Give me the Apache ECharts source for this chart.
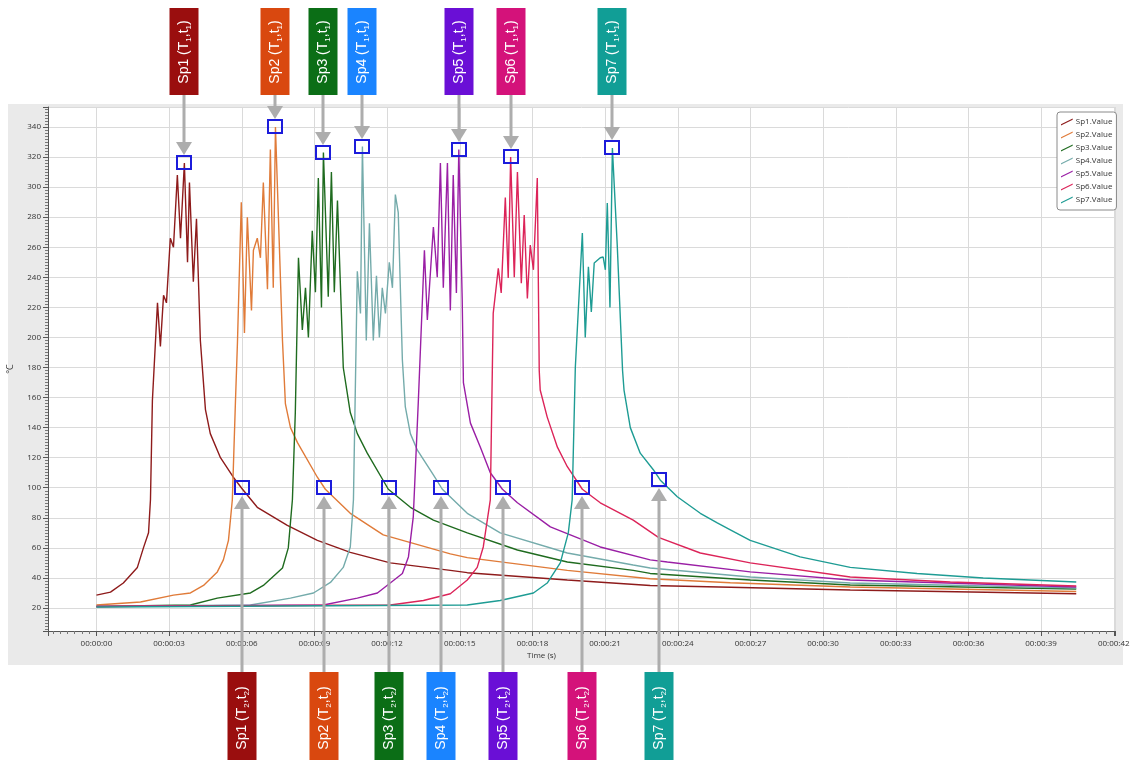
<!DOCTYPE html>
<html><head><meta charset="utf-8">
<script src="https://cdn.jsdelivr.net/npm/echarts@6/dist/echarts.min.js"></script>
<style>html,body{margin:0;padding:0;background:#fff}#c{width:1131px;height:760px}</style>
</head><body><div id="c"></div>
<script>
// ---- data ----
const seriesNames = ['Sp1.Value','Sp2.Value','Sp3.Value','Sp4.Value','Sp5.Value','Sp6.Value','Sp7.Value'];
const spNames = ['Sp1','Sp2','Sp3','Sp4','Sp5','Sp6','Sp7'];

const sp1Time = [0, 0.58, 1.11, 1.69, 1.94, 2.15, 2.23, 2.31, 2.52, 2.64, 2.77, 2.89, 3.05, 3.18, 3.34, 3.47, 3.63, 3.76, 3.84, 4.00, 4.13, 4.29, 4.50, 4.70, 5.12, 5.65, 6.03, 6.64, 7.88, 9.12, 10.48, 12.13, 14.61, 15.31, 19.44, 22.86, 26.17, 31.12, 40.45];
const sp1Temp = [28.6, 30.6, 36.6, 47, 60, 70, 92, 158, 223, 194, 228, 223, 266, 260, 308, 266, 316, 250, 303, 237, 279, 198, 152, 136, 120, 107, 99, 87, 75, 65, 57, 50, 45, 43.5, 38.6, 35, 33.8, 32, 29.5];

const sp2Time = [0, 1.82, 3.18, 3.88, 4.42, 4.99, 5.24, 5.45, 5.61, 5.74, 5.82, 5.98, 6.11, 6.23, 6.40, 6.48, 6.64, 6.77, 6.89, 7.06, 7.18, 7.30, 7.39, 7.68, 7.80, 8.01, 8.30, 9.12, 9.45, 10.48, 11.84, 14.61, 15.31, 19.44, 22.86, 26.17, 31.12, 40.45];
const sp2Temp = [22, 24, 28.6, 30, 35, 44, 52, 65, 92, 158, 196, 290, 203, 280, 218, 258, 266, 253, 303, 232, 325, 233, 340, 198, 156, 140, 130, 107, 99, 83, 68.6, 56, 53.5, 45, 39.5, 36.8, 34, 31];

const sp3Time = [0, 3.88, 4.99, 6.36, 6.89, 7.68, 7.92, 8.09, 8.21, 8.34, 8.50, 8.63, 8.75, 8.91, 9.04, 9.16, 9.29, 9.37, 9.57, 9.70, 9.82, 9.95, 10.19, 10.48, 10.77, 11.18, 12.05, 12.96, 13.91, 15.31, 17.38, 19.44, 22.16, 22.86, 26.99, 31.12, 40.45];
const sp3Temp = [21, 22, 26.6, 30, 35, 46.6, 60, 92, 150, 253, 205, 233, 200, 271, 230, 306, 220, 323, 227, 310, 230, 291, 180, 150, 136, 123, 99, 87, 78.5, 70, 58.6, 50.6, 45, 43, 38.6, 35.3, 32.6];

const sp4Time = [0, 6.36, 8.01, 8.96, 9.66, 10.19, 10.48, 10.61, 10.77, 10.90, 10.98, 11.14, 11.27, 11.43, 11.56, 11.68, 11.80, 11.93, 12.09, 12.22, 12.34, 12.46, 12.63, 12.75, 12.96, 13.25, 13.91, 14.28, 15.31, 16.67, 19.44, 22.16, 22.86, 26.99, 31.12, 40.45];
const sp4Temp = [21, 22, 26.6, 30, 37, 47, 60.6, 92, 244, 216, 327, 198, 276, 198, 241, 200, 233, 216, 250, 233, 295, 283, 185, 154, 136, 125, 108.5, 99, 83, 70, 56.6, 48.6, 46.6, 40.6, 36.6, 33.3];

const sp5Time = [0, 9.37, 10.77, 11.60, 12.13, 12.63, 12.88, 13.08, 13.29, 13.54, 13.66, 13.91, 14.07, 14.20, 14.32, 14.49, 14.61, 14.73, 14.86, 14.96, 15.10, 15.15, 15.44, 15.85, 16.26, 16.76, 17.38, 18.74, 20.80, 22.86, 23.57, 26.99, 31.12, 40.45];
const sp5Temp = [21, 22, 26.6, 30, 36.6, 43, 54, 80.6, 158, 258, 211.6, 273.5, 240, 316, 233, 316, 218, 308, 229.6, 325, 225, 170, 143, 127, 110, 99, 90, 74, 60.6, 52, 50.6, 44, 38.6, 34];

const sp6Time = [0, 12.13, 13.50, 14.61, 15.31, 15.72, 15.97, 16.26, 16.38, 16.59, 16.71, 16.88, 17.00, 17.10, 17.25, 17.38, 17.54, 17.66, 17.79, 17.91, 18.04, 18.20, 18.28, 18.32, 18.61, 19.03, 19.44, 20.06, 20.80, 22.16, 23.20, 24.93, 26.99, 31.12, 35.25, 40.45];
const sp6Temp = [21, 22, 25, 29.5, 38.6, 47, 60.6, 92, 216, 246, 229.6, 293, 239.6, 320, 240, 310, 236, 281.5, 226, 261.5, 245, 306, 178, 165, 147, 127, 114, 99, 90, 78.5, 67, 56.6, 50, 40.6, 37.3, 34.6];

const sp7Time = [0, 15.31, 16.67, 18.04, 18.61, 19.15, 19.48, 19.64, 19.77, 20.06, 20.18, 20.31, 20.43, 20.55, 20.80, 20.92, 21.01, 21.09, 21.20, 21.30, 21.50, 21.72, 21.78, 22.04, 22.45, 22.99, 23.28, 23.98, 24.93, 25.63, 26.17, 26.99, 29.05, 31.12, 33.88, 36.61, 40.45];
const sp7Temp = [20.7, 22, 25, 30, 36.6, 50, 70, 92, 180, 269.5, 200, 247, 217, 249.5, 253, 253.5, 245, 289.5, 220, 326, 261.5, 178, 165, 140, 123, 112, 105, 94, 83, 76.6, 72, 65, 54, 47, 43, 40, 37.3];

// annotation points (T1,t1) peak and (T2,t2) cooling
const peakTime = [3.63, 7.39, 9.37, 10.98, 14.96, 17.10, 21.30];
const peakTemp = [316, 340, 323, 327, 325, 320, 326];
const coolTime = [6.00, 9.40, 12.09, 14.24, 16.80, 20.06, 23.24];
const coolTemp = [100, 100, 100, 100, 100, 100, 105];

const xMin = -2, xMax = 42.05, yMin = 4.7, yMax = 353.3;

// ---- styles ----
const lineColors = ['#8E1B1B','#E07B39','#1F6B1F','#74ABAB','#9A1FA5','#DC2459','#1E9C94'];
const boxColors = ['#9A0E0E','#D9480F','#0B6E16','#1A84FF','#6A0FD6','#D4127A','#119E96'];
const FONT = 'Open Sans';

const times = [sp1Time, sp2Time, sp3Time, sp4Time, sp5Time, sp6Time, sp7Time];
const temps = [sp1Temp, sp2Temp, sp3Temp, sp4Temp, sp5Temp, sp6Temp, sp7Temp];

const rich = {
  a: {fontSize: 14, fontFamily: 'Liberation Sans', fill: '#fff', lineHeight: 18},
  s: {fontSize: 8, fontFamily: 'Liberation Sans', fill: '#fff', lineHeight: 18, verticalAlign: 'bottom'}
};

function makeAnno(isTop) {
  return function (params, api) {
    const p = api.coord([api.value(0), api.value(1)]);
    const i = api.value(2);
    const x = Math.round(p[0]), y = Math.round(p[1]);
    const sub = isTop ? '1' : '2';
    const text = '{a|' + spNames[i] + ' (T}{s|' + sub + '}{a|,t}{s|' + sub + '}{a|)}';
    const gray = '#ADADAD';
    let children;
    if (isTop) {
      children = [
        {type: 'line', shape: {x1: x, y1: 95, x2: x, y2: y - 19}, style: {stroke: gray, lineWidth: 3}},
        {type: 'polygon', shape: {points: [[x - 8, y - 21], [x + 8, y - 21], [x, y - 8]]}, style: {fill: gray}},
        {type: 'rect', shape: {x: x - 7, y: y - 7, width: 14, height: 13}, style: {fill: 'rgba(0,0,0,0)', stroke: '#1C1CDB', lineWidth: 2}},
        {type: 'rect', shape: {x: x - 14.5, y: 8, width: 29, height: 87}, style: {fill: boxColors[i]}},
        {type: 'text', x: x, y: 52, rotation: Math.PI / 2, style: {text: text, rich: rich, fill: '#fff', align: 'center', verticalAlign: 'middle'}}
      ];
    } else {
      children = [
        {type: 'line', shape: {x1: x, y1: 672, x2: x, y2: y + 19}, style: {stroke: gray, lineWidth: 3}},
        {type: 'polygon', shape: {points: [[x - 8, y + 21], [x + 8, y + 21], [x, y + 8]]}, style: {fill: gray}},
        {type: 'rect', shape: {x: x - 7, y: y - 7, width: 14, height: 13}, style: {fill: 'rgba(0,0,0,0)', stroke: '#1C1CDB', lineWidth: 2}},
        {type: 'rect', shape: {x: x - 14.5, y: 672, width: 29, height: 92}, style: {fill: boxColors[i]}},
        {type: 'text', x: x, y: 718, rotation: Math.PI / 2, style: {text: text, rich: rich, fill: '#fff', align: 'center', verticalAlign: 'middle'}}
      ];
    }
    return {type: 'group', children: children};
  };
}

const lineSeries = seriesNames.map((name, i) => ({
  name: name,
  type: 'line',
  data: times[i].map((t, k) => [t, temps[i][k]]),
  showSymbol: false,
  symbol: 'none',
  lineStyle: {color: lineColors[i], width: 1.4},
  itemStyle: {color: lineColors[i]},
  z: 3
}));

const chart = echarts.init(document.getElementById('c'), null, {renderer: 'canvas'});
chart.setOption({
  animation: false,
  backgroundColor: '#ffffff',
  grid: {left: 48, right: 16, top: 107, bottom: 129, show: true, backgroundColor: '#ffffff', borderWidth: 0, outerBoundsMode: 'none', containLabel: false},
  graphic: [
    {type: 'rect', left: 8, top: 104, z: -10, shape: {width: 1115, height: 561}, style: {fill: '#EAEAEA'}},
    {type: 'text', left: 527, top: 652, z: 5, style: {text: 'Time (s)', fontSize: 8, fontFamily: FONT, fill: '#333'}}
  ],
  legend: {
    data: seriesNames,
    orient: 'vertical',
    left: 1057, top: 112,
    itemWidth: 12, itemHeight: 7, itemGap: 3,
    icon: 'path://M0,10 L20,0 L20,2 L0,12 Z',
    padding: [5, 4, 5, 4],
    backgroundColor: '#ffffff',
    borderColor: '#8A8A8A', borderWidth: 1, borderRadius: 3,
    textStyle: {fontSize: 8, fontFamily: FONT, color: '#333', lineHeight: 10, padding: [0, 0, 0, -2]}
  },
  xAxis: {
    type: 'value', min: xMin, max: xMax, splitNumber: 14,
    axisLine: {show: true, onZero: false, lineStyle: {color: '#555', width: 1}},
    axisTick: {show: true, length: 5, lineStyle: {color: '#555'}},
    minorTick: {show: true, splitNumber: 10, length: 3, lineStyle: {color: '#777'}},
    splitLine: {show: true, lineStyle: {color: '#DADADA', width: 1}},
    axisLabel: {
      fontSize: 8, fontFamily: FONT, color: '#333', margin: 9, showMinLabel: true, showMaxLabel: true,
      formatter: function (v) {
        const r = Math.round(v);
        if (Math.abs(v - r) > 1e-6 || r % 3 !== 0 || r < 0) return '';
        return '00:00:' + String(r).padStart(2, '0');
      }
    }
  },
  yAxis: {
    type: 'value', min: yMin, max: yMax, splitNumber: 17,
    name: '°C', nameLocation: 'middle', nameGap: 33, nameRotate: 90,
    nameTextStyle: {fontSize: 9, fontFamily: FONT, color: '#333'},
    axisLine: {show: true, onZero: false, lineStyle: {color: '#555', width: 1}},
    axisTick: {show: true, length: 5, lineStyle: {color: '#555'}},
    minorTick: {show: true, splitNumber: 10, length: 3, lineStyle: {color: '#777'}},
    splitLine: {show: true, lineStyle: {color: '#DADADA', width: 1}},
    axisLabel: {
      fontSize: 8, fontFamily: FONT, color: '#333', margin: 7,
      formatter: function (v) {
        const r = Math.round(v);
        if (Math.abs(v - r) > 1e-6 || r % 20 !== 0) return '';
        return String(r);
      }
    }
  },
  series: lineSeries.concat([
    {
      type: 'custom', name: 'peakAnno', renderItem: makeAnno(true), clip: false, silent: true, z: 10,
      encode: {x: 0, y: 1},
      data: peakTime.map((t, i) => [t, peakTemp[i], i])
    },
    {
      type: 'custom', name: 'coolAnno', renderItem: makeAnno(false), clip: false, silent: true, z: 10,
      encode: {x: 0, y: 1},
      data: coolTime.map((t, i) => [t, coolTemp[i], i])
    }
  ])
});
</script></body></html>
